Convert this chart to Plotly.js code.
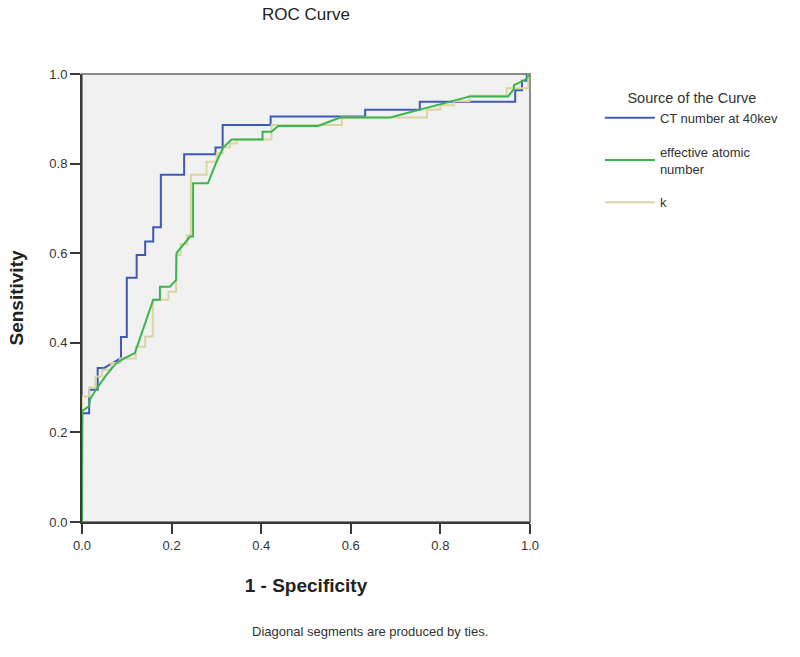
<!DOCTYPE html>
<html>
<head>
<meta charset="utf-8">
<script src="https://cdn.plot.ly/plotly-3.0.1.min.js"></script>
<style>html,body{margin:0;padding:0;background:#fff;}#chart{width:800px;height:657px;}</style>
</head>
<body>
<div id="chart"></div>
<script>
// Series names
const seriesNames = ["CT number at 40kev", "effective atomic<br>number", "k"];

// CT number at 40kev: 1 - specificity / sensitivity
const ctFpr = [0, 0, 0.016, 0.016, 0.035, 0.035, 0.05, 0.087, 0.087, 0.1,
  0.1, 0.122, 0.122, 0.141, 0.141, 0.159, 0.159, 0.176, 0.176, 0.228,
  0.228, 0.298, 0.298, 0.314, 0.314, 0.421, 0.421, 0.632, 0.632, 0.754,
  0.754, 0.967, 0.967, 0.982, 0.982, 0.993, 0.993, 1];
const ctTpr = [0, 0.243, 0.243, 0.295, 0.295, 0.344, 0.344, 0.366, 0.413, 0.413,
  0.545, 0.545, 0.596, 0.596, 0.626, 0.626, 0.658, 0.658, 0.775, 0.775,
  0.821, 0.821, 0.836, 0.836, 0.886, 0.886, 0.905, 0.905, 0.92, 0.92,
  0.938, 0.938, 0.964, 0.964, 0.985, 0.985, 1, 1];

// effective atomic number
const zeffFpr = [0, 0.001, 0.016, 0.018, 0.031, 0.054, 0.076, 0.094, 0.118, 0.159,
  0.174, 0.174, 0.196, 0.21, 0.211, 0.241, 0.248, 0.248, 0.281, 0.299,
  0.315, 0.334, 0.403, 0.403, 0.423, 0.438, 0.527, 0.576, 0.688, 0.754,
  0.814, 0.866, 0.951, 0.964, 0.964, 0.989, 1];
const zeffTpr = [0, 0.248, 0.259, 0.274, 0.295, 0.328, 0.354, 0.365, 0.377, 0.496,
  0.496, 0.525, 0.525, 0.54, 0.6, 0.637, 0.637, 0.756, 0.756, 0.801,
  0.836, 0.854, 0.854, 0.871, 0.871, 0.884, 0.884, 0.903, 0.903, 0.921,
  0.936, 0.95, 0.95, 0.966, 0.975, 0.987, 1];

// k
const kFpr = [0, 0, 0.016, 0.016, 0.03, 0.03, 0.045, 0.045, 0.065, 0.065,
  0.085, 0.085, 0.12, 0.12, 0.141, 0.141, 0.158, 0.158, 0.193, 0.193,
  0.21, 0.21, 0.22, 0.22, 0.235, 0.235, 0.243, 0.243, 0.278, 0.278,
  0.301, 0.301, 0.315, 0.315, 0.33, 0.33, 0.345, 0.345, 0.423, 0.423,
  0.58, 0.58, 0.77, 0.77, 0.8, 0.8, 0.83, 0.83, 0.865, 0.865,
  0.948, 0.948, 0.996, 0.996, 1];
const kTpr = [0, 0.28, 0.28, 0.3, 0.3, 0.325, 0.325, 0.34, 0.34, 0.355,
  0.355, 0.365, 0.365, 0.391, 0.391, 0.414, 0.414, 0.496, 0.496, 0.514,
  0.514, 0.596, 0.596, 0.62, 0.62, 0.64, 0.64, 0.775, 0.775, 0.804,
  0.804, 0.823, 0.823, 0.836, 0.836, 0.845, 0.845, 0.854, 0.854, 0.886,
  0.886, 0.903, 0.903, 0.92, 0.92, 0.93, 0.93, 0.94, 0.94, 0.952,
  0.952, 0.968, 0.968, 1, 1];

const tickVals = [0, 0.2, 0.4, 0.6, 0.8, 1.0];

const FONT = "Liberation Sans, Arial, sans-serif";

const traces = [
  {x: ctFpr, y: ctTpr, name: seriesNames[0], legendrank: 1, legendgroup: "a",
   mode: "lines", line: {color: "#4058b8", width: 2}},
  {x: kFpr, y: kTpr, name: seriesNames[2], legendrank: 3, legendgroup: "c",
   mode: "lines", line: {color: "#d9d5a3", width: 2}},
  {x: zeffFpr, y: zeffTpr, name: seriesNames[1], legendrank: 2, legendgroup: "b",
   mode: "lines", line: {color: "#3cb44e", width: 2}}
];

const axisCommon = {
  range: [0, 1], tickvals: tickVals, tickformat: ".1f",
  showgrid: false, zeroline: false, showline: true,
  linecolor: "#3a3a3a", linewidth: 2,
  ticks: "outside", ticklen: 10, tickwidth: 2, tickcolor: "#3a3a3a",
  tickfont: {family: FONT, size: 13, color: "#333"},
  fixedrange: true
};

const layout = {
  width: 800, height: 657,
  margin: {l: 82, r: 270, t: 74, b: 135},
  paper_bgcolor: "#ffffff",
  plot_bgcolor: "#f1f1f1",
  title: {text: "ROC Curve", x: 0.3825, xanchor: "center", y: 0.979, yanchor: "middle",
          font: {family: FONT, size: 17, color: "#222"}},
  xaxis: Object.assign({}, axisCommon, {
    title: {text: "<b>1 - Specificity</b>", standoff: 27,
            font: {family: FONT, size: 19, color: "#222"}}
  }),
  yaxis: Object.assign({}, axisCommon, {
    title: {text: "<b>Sensitivity</b>", standoff: 21,
            font: {family: FONT, size: 19, color: "#222"}}
  }),
  showlegend: true,
  legend: {
    x: 1.156, xanchor: "left", y: 0.978, yanchor: "top",
    bgcolor: "rgba(0,0,0,0)",
    font: {family: FONT, size: 13, color: "#333"},
    title: {text: "Source of the Curve", side: "top center",
            font: {family: FONT, size: 14.5, color: "#333"}},
    traceorder: "grouped", tracegroupgap: 14,
    itemwidth: 50
  },
  shapes: [
    {type: "rect", xref: "paper", yref: "paper", x0: 0, x1: 1, y0: 0, y1: 1,
     line: {color: "#8a8a8a", width: 2}, layer: "below"}
  ],
  annotations: [
    {text: "Diagonal segments are produced by ties.", xref: "paper", yref: "paper",
     x: 0.643, y: -0.2455, xanchor: "center", yanchor: "middle", showarrow: false,
     font: {family: FONT, size: 13, color: "#333"}}
  ]
};

Plotly.newPlot("chart", traces, layout, {staticPlot: true, displayModeBar: false});
</script>
</body>
</html>
